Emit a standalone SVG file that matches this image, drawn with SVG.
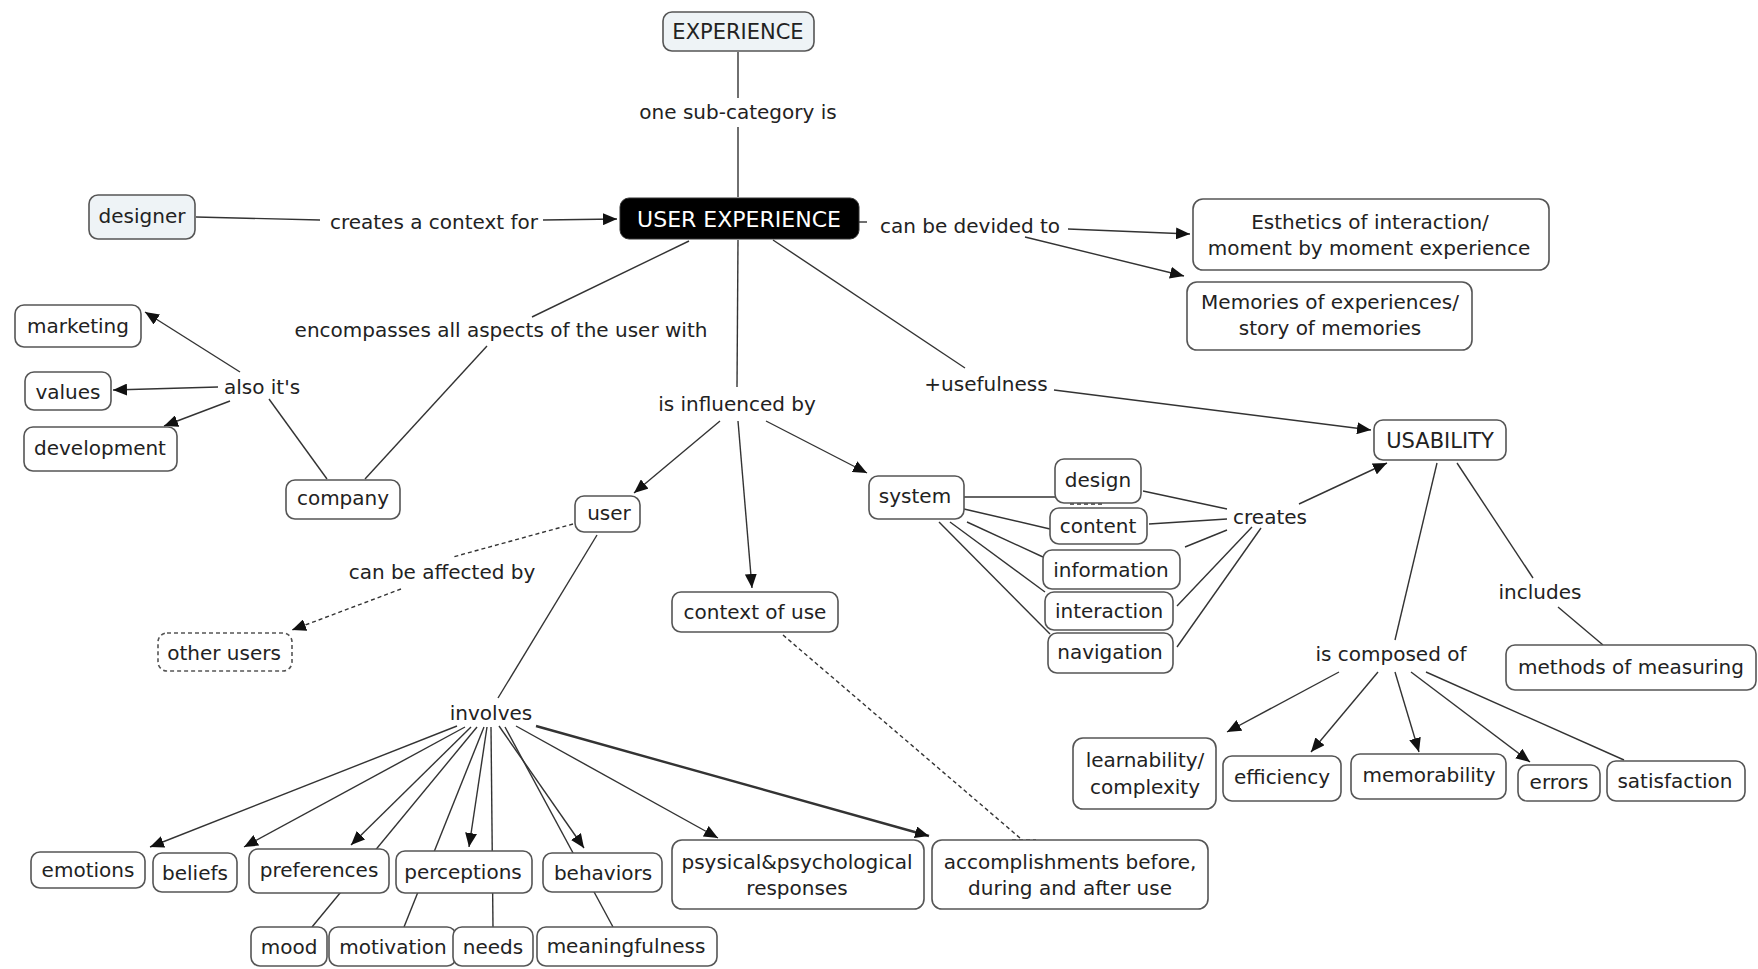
<svg xmlns="http://www.w3.org/2000/svg" width="1758" height="969" viewBox="0 0 1758 969">
<style>
text{font-family:"DejaVu Sans","Verdana",sans-serif;font-size:20px;fill:#222;text-anchor:middle;dominant-baseline:central}
.box{fill:#fff;stroke:#555;stroke-width:1.6}
.lt{fill:#eef3f6}
.dash{stroke-dasharray:4 3}
.c line{stroke:#333;stroke-width:1.4}
.c .d{stroke-dasharray:4 3}
.c .th{stroke-width:2.4}
.caps{font-size:21px}
</style>
<defs>
<marker id="a" markerUnits="userSpaceOnUse" markerWidth="15" markerHeight="12" refX="14" refY="6" orient="auto"><path d="M0,0 L14,6 L0,12 z" fill="#111"/></marker>
</defs>
<rect width="1758" height="969" fill="#fff"/>
<g id="connectors" class="c">
<line x1="738" y1="52" x2="738" y2="98"/>
<line x1="738" y1="127" x2="738" y2="197"/>
<line x1="196" y1="217" x2="320" y2="220"/>
<line x1="543" y1="220" x2="617" y2="219" marker-end="url(#a)"/>
<line x1="859" y1="222" x2="867" y2="222"/>
<line x1="1068" y1="229" x2="1190" y2="234" marker-end="url(#a)"/>
<line x1="1025" y1="237" x2="1184" y2="276" marker-end="url(#a)"/>
<line x1="689" y1="241" x2="532" y2="317"/>
<line x1="487" y1="346" x2="365" y2="479"/>
<line x1="327" y1="479" x2="269" y2="399"/>
<line x1="240" y1="372" x2="145" y2="312" marker-end="url(#a)"/>
<line x1="218" y1="387" x2="113" y2="390" marker-end="url(#a)"/>
<line x1="230" y1="401" x2="164" y2="426" marker-end="url(#a)"/>
<line x1="738" y1="240" x2="737" y2="387"/>
<line x1="720" y1="421" x2="634" y2="493" marker-end="url(#a)"/>
<line x1="738" y1="421" x2="752" y2="588" marker-end="url(#a)"/>
<line x1="766" y1="421" x2="867" y2="473" marker-end="url(#a)"/>
<line x1="773" y1="240" x2="965" y2="368"/>
<line x1="1054" y1="390" x2="1371" y2="430" marker-end="url(#a)"/>
<line class="d" x1="573" y1="524" x2="453" y2="557"/>
<line class="d" x1="401" y1="589" x2="292" y2="630" marker-end="url(#a)"/>
<line x1="597" y1="535" x2="498" y2="698"/>
<line x1="457" y1="726" x2="150" y2="847" marker-end="url(#a)"/>
<line x1="465" y1="727" x2="244" y2="847" marker-end="url(#a)"/>
<line x1="471" y1="727" x2="351" y2="845" marker-end="url(#a)"/>
<line x1="477" y1="727" x2="312" y2="927"/>
<line x1="484" y1="727" x2="404" y2="927"/>
<line x1="487" y1="727" x2="469" y2="847" marker-end="url(#a)"/>
<line x1="491" y1="727" x2="493" y2="927"/>
<line x1="499" y1="726" x2="584" y2="848" marker-end="url(#a)"/>
<line x1="505" y1="727" x2="613" y2="927"/>
<line x1="516" y1="726" x2="718" y2="838" marker-end="url(#a)"/>
<line class="th" x1="536" y1="726" x2="929" y2="836" marker-end="url(#a)"/>
<line class="d" x1="783" y1="635" x2="1020" y2="838"/>
<line class="d" x1="1012" y1="840" x2="1036" y2="840"/>
<line x1="964" y1="497" x2="1055" y2="497"/>
<line x1="964" y1="509" x2="1050" y2="529"/>
<line x1="967" y1="522" x2="1043" y2="557"/>
<line x1="950" y1="522" x2="1045" y2="592"/>
<line x1="939" y1="522" x2="1050" y2="634"/>
<line class="d" x1="1070" y1="504" x2="1104" y2="504"/>
<line x1="1143" y1="491" x2="1227" y2="509"/>
<line x1="1149" y1="524" x2="1227" y2="519"/>
<line x1="1185" y1="547" x2="1227" y2="530"/>
<line x1="1177" y1="606" x2="1252" y2="527"/>
<line x1="1177" y1="647" x2="1261" y2="528"/>
<line x1="1299" y1="504" x2="1387" y2="463" marker-end="url(#a)"/>
<line x1="1437" y1="463" x2="1395" y2="640"/>
<line x1="1457" y1="463" x2="1533" y2="578"/>
<line x1="1558" y1="607" x2="1603" y2="645"/>
<line x1="1339" y1="672" x2="1227" y2="732" marker-end="url(#a)"/>
<line x1="1378" y1="672" x2="1311" y2="752" marker-end="url(#a)"/>
<line x1="1395" y1="672" x2="1419" y2="752" marker-end="url(#a)"/>
<line x1="1411" y1="672" x2="1530" y2="762" marker-end="url(#a)"/>
<line x1="1426" y1="672" x2="1624" y2="760"/>
</g>
<g id="labels">
<text x="738" y="112">one sub-category is</text>
<text x="434" y="222">creates a context for</text>
<text x="970" y="226">can be devided to</text>
<text x="501" y="330">encompasses all aspects of the user with</text>
<text x="262" y="387">also it's</text>
<text x="737" y="404">is influenced by</text>
<text x="986" y="384">+usefulness</text>
<text x="442" y="572">can be affected by</text>
<text x="491" y="713">involves</text>
<text x="1270" y="517">creates</text>
<text x="1391" y="654">is composed of</text>
<text x="1540" y="592">includes</text>
</g>
<g id="n-experience"><rect class="box lt" x="663" y="12" width="151" height="39" rx="9"/><text class="caps" x="738" y="32">EXPERIENCE</text></g>
<g id="n-ux"><rect x="620" y="198" width="239" height="41" rx="9" fill="#000" stroke="#333"/><text x="739" y="219" style="font-size:22px;fill:#fff">USER EXPERIENCE</text></g>
<g id="n-designer"><rect class="box lt" x="89" y="195" width="106" height="44" rx="9"/><text x="142" y="216">designer</text></g>
<g id="n-esthetics"><rect class="box" x="1193" y="199" width="356" height="71" rx="10"/><text x="1370" y="222">Esthetics of interaction/</text><text x="1369" y="248">moment by moment experience</text></g>
<g id="n-memories"><rect class="box" x="1187" y="282" width="285" height="68" rx="10"/><text x="1330" y="302">Memories of experiences/</text><text x="1330" y="328">story of memories</text></g>
<g id="n-marketing"><rect class="box" x="15" y="305" width="126" height="42" rx="9"/><text x="78" y="326">marketing</text></g>
<g id="n-values"><rect class="box" x="25" y="372" width="86" height="38" rx="9"/><text x="68" y="392">values</text></g>
<g id="n-development"><rect class="box" x="24" y="427" width="153" height="44" rx="9"/><text x="100" y="448">development</text></g>
<g id="n-company"><rect class="box" x="286" y="480" width="114" height="39" rx="9"/><text x="343" y="498">company</text></g>
<g id="n-user"><rect class="box" x="575" y="496" width="65" height="36" rx="9"/><text x="609" y="513">user</text></g>
<g id="n-system"><rect class="box" x="869" y="476" width="95" height="43" rx="9"/><text x="915" y="496">system</text></g>
<g id="n-context"><rect class="box" x="672" y="592" width="166" height="40" rx="9"/><text x="755" y="612">context of use</text></g>
<g id="n-otherusers"><rect class="box dash" x="158" y="633" width="134" height="38" rx="9"/><text x="224" y="653">other users</text></g>
<g id="n-design"><rect class="box" x="1055" y="459" width="86" height="44" rx="9"/><text x="1098" y="480">design</text></g>
<g id="n-content"><rect class="box" x="1050" y="508" width="97" height="36" rx="9"/><text x="1098" y="526">content</text></g>
<g id="n-information"><rect class="box" x="1043" y="550" width="137" height="39" rx="9"/><text x="1111" y="570">information</text></g>
<g id="n-interaction"><rect class="box" x="1045" y="592" width="128" height="38" rx="9"/><text x="1109" y="611">interaction</text></g>
<g id="n-navigation"><rect class="box" x="1048" y="633" width="125" height="40" rx="9"/><text x="1110" y="652">navigation</text></g>
<g id="n-usability"><rect class="box" x="1374" y="420" width="132" height="40" rx="9"/><text class="caps" x="1440" y="441">USABILITY</text></g>
<g id="n-methods"><rect class="box" x="1506" y="645" width="250" height="45" rx="9"/><text x="1631" y="667">methods of measuring</text></g>
<g id="n-learnability"><rect class="box" x="1073" y="738" width="143" height="71" rx="10"/><text x="1145" y="760">learnability/</text><text x="1145" y="787">complexity</text></g>
<g id="n-efficiency"><rect class="box" x="1223" y="756" width="118" height="45" rx="9"/><text x="1282" y="777">efficiency</text></g>
<g id="n-memorability"><rect class="box" x="1351" y="754" width="155" height="45" rx="9"/><text x="1429" y="775">memorability</text></g>
<g id="n-errors"><rect class="box" x="1518" y="765" width="82" height="36" rx="9"/><text x="1559" y="782">errors</text></g>
<g id="n-satisfaction"><rect class="box" x="1607" y="761" width="138" height="40" rx="9"/><text x="1675" y="781">satisfaction</text></g>
<g id="n-emotions"><rect class="box" x="31" y="852" width="114" height="36" rx="9"/><text x="88" y="870">emotions</text></g>
<g id="n-beliefs"><rect class="box" x="153" y="853" width="84" height="39" rx="9"/><text x="195" y="873">beliefs</text></g>
<g id="n-preferences"><rect class="box" x="249" y="849" width="140" height="44" rx="9"/><text x="319" y="870">preferences</text></g>
<g id="n-perceptions"><rect class="box" x="396" y="851" width="136" height="42" rx="9"/><text x="463" y="872">perceptions</text></g>
<g id="n-behaviors"><rect class="box" x="543" y="853" width="119" height="39" rx="9"/><text x="603" y="873">behaviors</text></g>
<g id="n-psysical"><rect class="box" x="672" y="840" width="252" height="69" rx="10"/><text x="797" y="862">psysical&amp;psychological</text><text x="797" y="888">responses</text></g>
<g id="n-accomplishments"><rect class="box" x="932" y="840" width="276" height="69" rx="10"/><text x="1070" y="862">accomplishments before,</text><text x="1070" y="888">during and after use</text></g>
<g id="n-mood"><rect class="box" x="251" y="927" width="76" height="39" rx="9"/><text x="289" y="947">mood</text></g>
<g id="n-motivation"><rect class="box" x="329" y="927" width="127" height="39" rx="9"/><text x="393" y="947">motivation</text></g>
<g id="n-needs"><rect class="box" x="453" y="927" width="80" height="39" rx="9"/><text x="493" y="947">needs</text></g>
<g id="n-meaningfulness"><rect class="box" x="537" y="927" width="180" height="39" rx="9"/><text x="626" y="946">meaningfulness</text></g>
</svg>
